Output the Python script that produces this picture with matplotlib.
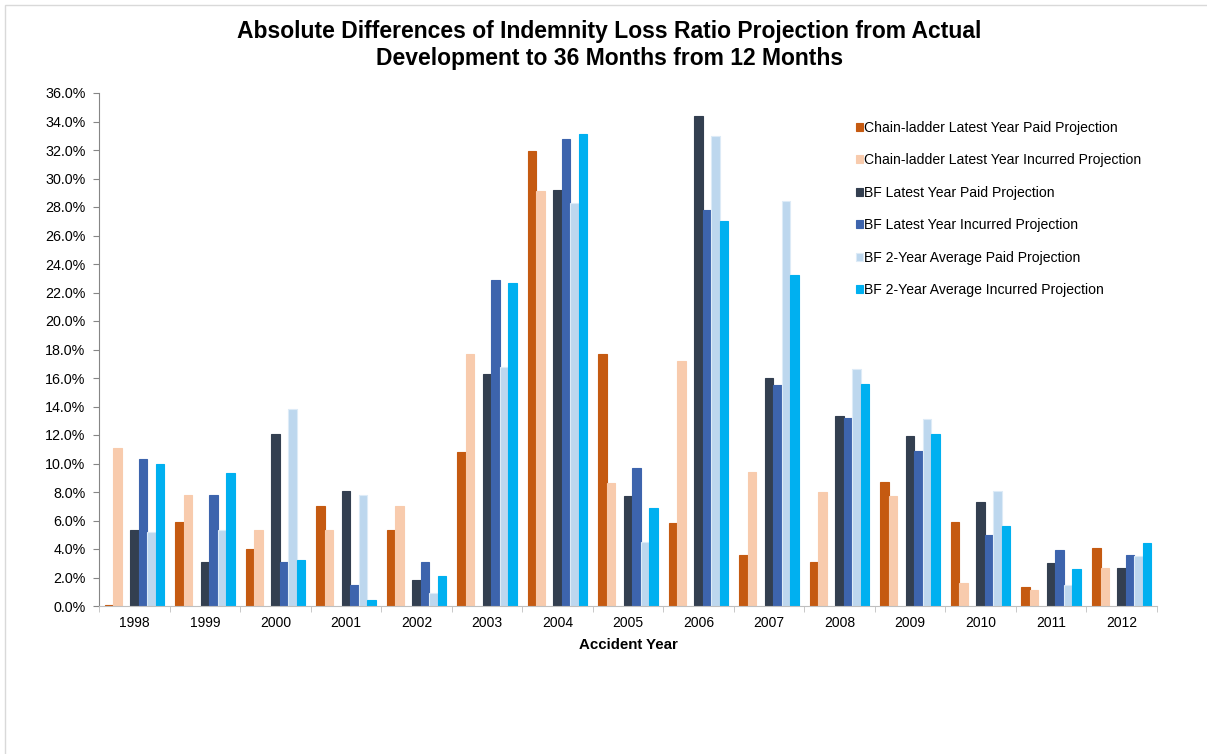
import numpy as np
import matplotlib
matplotlib.use("Agg")
import matplotlib.pyplot as plt
from matplotlib.ticker import FuncFormatter, MultipleLocator, FixedLocator
from matplotlib.patches import Rectangle

plt.rcParams['font.family'] = ['Liberation Sans', 'DejaVu Sans']

years = ["1998", "1999", "2000", "2001", "2002", "2003", "2004", "2005",
         "2006", "2007", "2008", "2009", "2010", "2011", "2012"]

# absolute differences, in percent
cl_paid = [0.1, 5.9, 4.0, 7.0, 5.3, 10.8, 31.9, 17.7, 5.8, 3.6, 3.1, 8.7, 5.9, 1.3, 4.1]
cl_incurred = [11.1, 7.8, 5.3, 5.3, 7.0, 17.7, 29.1, 8.6, 17.2, 9.4, 8.0, 7.7, 1.6, 1.1, 2.7]
bf_paid = [5.3, 3.1, 12.1, 8.1, 1.8, 16.3, 29.2, 7.7, 34.4, 16.0, 13.3, 11.9, 7.3, 3.0, 2.7]
bf_incurred = [10.3, 7.8, 3.1, 1.5, 3.1, 22.9, 32.8, 9.7, 27.8, 15.5, 13.2, 10.9, 5.0, 3.9, 3.6]
bf2_paid = [5.2, 5.3, 13.8, 7.8, 0.9, 16.8, 28.3, 4.5, 33.0, 28.4, 16.6, 13.1, 8.1, 1.5, 3.5]
bf2_incurred = [10.0, 9.3, 3.2, 0.4, 2.1, 22.7, 33.1, 6.9, 27.0, 23.2, 15.6, 12.1, 5.6, 2.6, 4.4]

series = [
    ("Chain-ladder Latest Year Paid Projection", cl_paid, "#C55A11", 0),
    ("Chain-ladder Latest Year Incurred Projection", cl_incurred, "#F8CBAD", 1),
    ("BF Latest Year Paid Projection", bf_paid, "#333F50", 3),
    ("BF Latest Year Incurred Projection", bf_incurred, "#3D64AD", 4),
    ("BF 2-Year Average Paid Projection", bf2_paid, "#BDD7EE", 5),
    ("BF 2-Year Average Incurred Projection", bf2_incurred, "#00B0F0", 6),
]

fig = plt.figure(figsize=(12.07, 7.54), dpi=100)
ax = fig.add_axes([99.3 / 1207, 148 / 754, 1057.7 / 1207, 513 / 754])

# 7 slots per year, slot 2 left empty between chain-ladder and BF bars
x = np.arange(len(years))
w = 1.0 / 8.3
for label, vals, color, slot in series:
    edge = "#DDEBF7" if color == "#BDD7EE" else color
    ax.bar(x + (slot - 3) * w, vals, width=w, color=color, edgecolor=edge,
           linewidth=0.8, label=label)

ax.set_xlim(-0.5, len(years) - 0.5)
ax.set_ylim(0, 36)
ax.yaxis.set_major_locator(MultipleLocator(2))
ax.yaxis.set_major_formatter(FuncFormatter(lambda v, p: "%.1f%%" % v))

ax.set_xticks(x)
ax.set_xticklabels(years)
ax.xaxis.set_minor_locator(FixedLocator(np.arange(-0.5, len(years), 1.0)))
ax.tick_params(axis="x", which="major", length=0, pad=7, labelsize=10)
ax.tick_params(axis="x", which="minor", length=4, color="#BFBFBF", direction="out")
ax.tick_params(axis="y", length=4, color="#868686", labelsize=10.3, pad=6)

for s in ["top", "right"]:
    ax.spines[s].set_visible(False)
ax.spines["left"].set_color("#868686")
ax.spines["bottom"].set_color("#BFBFBF")

ax.set_xlabel("Accident Year", fontsize=10.8, fontweight="bold", labelpad=6)

fig.text(0.505, 1 - 45 / 754, "Absolute Differences of Indemnity Loss Ratio Projection from Actual\n"
         "Development to 36 Months from 12 Months", ha="center", va="center",
         fontsize=16.5, fontweight="bold", linespacing=1.17)

ax.legend(loc="upper left", bbox_to_anchor=(849 / 1207, 1 - 114 / 754),
          bbox_transform=fig.transFigure, frameon=False, fontsize=10.1,
          handlelength=0.5, handleheight=0.5, handletextpad=0.1,
          labelspacing=1.31, borderpad=0)

# outer chart border
fig.add_artist(Rectangle((5 / 1207, -0.1), 1.2, 1 - 5 / 754 + 0.1,
                         transform=fig.transFigure, fill=False,
                         edgecolor="#D9D9D9", linewidth=1))

fig.savefig("out.png", dpi=100)
